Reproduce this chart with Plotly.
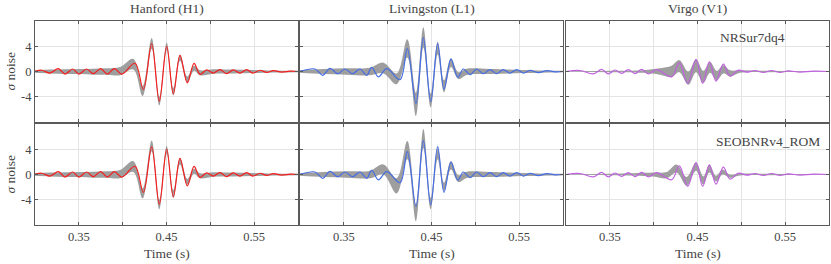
import plotly.graph_objects as go
from plotly.subplots import make_subplots

# ---------------- data ----------------
DETECTORS = ["Hanford (H1)", "Livingston (L1)", "Virgo (V1)"]
MODELS = ["NRSur7dq4", "SEOBNRv4_ROM"]
X_TICKS = [0.35, 0.40, 0.45, 0.50, 0.55]
X_TICKTEXT = ["0.35", "", "0.45", "", "0.55"]
Y_TICKS = [-4, 0, 4]
Y_TICKTEXT = ["-4", "0", "4"]

# whitened data (lines)
H1_T = [0.3000, 0.3076, 0.3171, 0.3266, 0.3342, 0.3430, 0.3502, 0.3589, 0.3665, 0.3749, 0.3825, 0.3905, 0.3989,
        0.4141, 0.4236, 0.4331, 0.4418, 0.4502, 0.4578, 0.4654, 0.4738, 0.4814, 0.4882, 0.4958, 0.5034, 0.5110,
        0.5186, 0.5262, 0.5338, 0.5415, 0.5483, 0.5567, 0.5643, 0.5719, 0.5814, 0.5909, 0.6000]
H1_DATA = [0, 0.2, -0.25, 0.45, -0.4, 0.4, -0.4, 0.4, -0.35, 0.45, -0.4, 0.45, -0.4,
           1.3, -2.85, 4.4, -4.7, 4.0, -3.55, 2.55, -1.8, 1.3, -0.45, 0.25, -0.25, 0.3,
           -0.35, 0.25, -0.25, 0.3, -0.25, 0.2, -0.15, 0.15, -0.1, 0.05, 0]

L1_T = [0.3000, 0.3171, 0.3259, 0.3342, 0.3430, 0.3513, 0.3601, 0.3684, 0.3761, 0.3818, 0.3894, 0.3989,
        0.4141, 0.4224, 0.4323, 0.4407, 0.4491, 0.4570, 0.4643, 0.4722, 0.4799, 0.4863, 0.4939, 0.5015,
        0.5091, 0.5167, 0.5243, 0.5319, 0.5395, 0.5472, 0.5548, 0.5624, 0.5719, 0.5814, 0.5909, 0.6000]
L1_DATA = [0, 0.4, -0.6, 0.5, -0.35, 0.4, -0.35, 0.4, -0.6, 0.65, -0.85, 0.45,
           -1.3, 3.63, -5.05, 5.37, -4.79, 4.42, -2.84, 1.95, -0.9, 0.4, -0.5, 0.4,
           -0.35, 0.3, -0.35, 0.3, -0.25, 0.3, -0.25, 0.18, -0.18, 0.15, -0.05, 0]

V1_T = [0.3000, 0.3160, 0.3312, 0.3407, 0.3483, 0.3559, 0.3635, 0.3711, 0.3787, 0.3863, 0.3939, 0.4034,
        0.4205, 0.4293, 0.4388, 0.4483, 0.4559, 0.4635, 0.4711, 0.4795, 0.4871, 0.4966, 0.5061, 0.5156,
        0.5251, 0.5346, 0.5441, 0.5536, 0.5669, 0.5821, 0.6000]
V1_DATA = [0, 0.16, -0.38, 0.33, -0.38, 0.24, -0.3, 0.3, -0.33, 0.33, -0.38, 0.3,
           -0.84, 1.37, -1.89, 1.89, -1.89, 1.53, -1.53, 1.16, -0.74, 0.21, -0.1, 0.16,
           -0.16, 0.16, -0.16, 0.1, -0.1, 0.05, 0]

# reconstruction bands (90% region)
H1_BAND_T = [0.3000, 0.3171, 0.3342, 0.3513, 0.3665, 0.3825, 0.3970, 0.4122, 0.4228, 0.4331, 0.4418,
             0.4502, 0.4578, 0.4654, 0.4738, 0.4814, 0.4882, 0.5034, 0.5262, 0.5491, 0.5719, 0.6000]
NRSUR_H1_HI = [0.2, 0.3, 0.35, 0.4, 0.45, 0.5, 0.7, 2.0, -2.3, 5.3, -4.0, 4.6, -2.6, 2.7, -0.8, 0.9, 0.2, 0.35, 0.3, 0.25, 0.15, 0.1]
NRSUR_H1_LO = [-0.2, -0.3, -0.4, -0.4, -0.5, -0.5, -0.6, 0.3, -3.9, 3.6, -5.4, 3.4, -3.8, 1.7, -1.7, 0.1, -0.6, -0.35, -0.3, -0.25, -0.15, -0.1]
SEOB_H1_HI = [0.2, 0.3, 0.35, 0.4, 0.45, 0.5, 0.7, 2.1, -2.2, 5.4, -4.0, 4.5, -2.5, 2.6, -0.7, 0.9, 0.2, 0.35, 0.3, 0.25, 0.15, 0.1]
SEOB_H1_LO = [-0.2, -0.3, -0.4, -0.4, -0.5, -0.5, -0.6, 0.4, -3.8, 3.7, -5.5, 3.3, -3.7, 1.6, -1.6, 0.1, -0.6, -0.35, -0.3, -0.25, -0.15, -0.1]

L1_BAND_T = [0.3000, 0.3266, 0.3532, 0.3798, 0.3951, 0.4103, 0.4224, 0.4323, 0.4407, 0.4491, 0.4570,
             0.4643, 0.4722, 0.4806, 0.4901, 0.5167, 0.5548, 0.6000]
NRSUR_L1_HI = [0.2, 0.4, 0.5, 0.6, 1.4, -0.3, 5.1, -3.4, 7.0, -3.5, 4.7, -1.4, 2.1, -0.1, 0.45, 0.4, 0.25, 0.1]
NRSUR_L1_LO = [-0.2, -0.4, -0.5, -0.6, -0.3, -2.0, 2.2, -7.1, 3.8, -5.7, 2.7, -3.3, 0.7, -1.2, -0.55, -0.4, -0.25, -0.1]
SEOB_L1_HI = [0.2, 0.4, 0.5, 0.6, 1.6, -0.6, 5.3, -4.7, 7.2, -3.7, 4.2, -1.3, 2.1, -0.1, 0.45, 0.4, 0.25, 0.1]
SEOB_L1_LO = [-0.2, -0.4, -0.5, -0.6, 0.0, -3.0, 2.4, -7.4, 4.2, -5.5, 2.4, -2.6, 0.8, -1.2, -0.55, -0.4, -0.25, -0.1]

NRSUR_V1_T = [0.3000, 0.3502, 0.3882, 0.4072, 0.4205, 0.4293, 0.4395, 0.4483, 0.4567, 0.4643, 0.4719,
              0.4795, 0.4871, 0.4985, 0.5300, 0.6000]
NRSUR_V1_HI = [0.05, 0.1, 0.2, 0.5, 0.9, 1.8, 0.0, 2.0, 0.1, 1.5, 0.1, 1.0, 0.2, 0.2, 0.1, 0.05]
NRSUR_V1_LO = [-0.05, -0.1, -0.2, -0.5, -0.9, -0.1, -2.1, -0.1, -1.8, -0.2, -1.4, -0.3, -0.8, -0.2, -0.1, -0.05]
SEOB_V1_T = [0.3000, 0.3502, 0.3996, 0.4148, 0.4262, 0.4376, 0.4483, 0.4567, 0.4635, 0.4711, 0.4787,
             0.4871, 0.4985, 0.5300, 0.6000]
SEOB_V1_HI = [0.05, 0.1, 0.3, 0.4, 1.6, -0.4, 1.9, -0.3, 1.6, -0.2, 0.8, 0.0, 0.15, 0.1, 0.05]
SEOB_V1_LO = [-0.05, -0.1, -0.3, -0.6, 0.3, -1.8, 0.6, -1.6, 0.3, -1.1, 0.0, -0.5, -0.15, -0.1, -0.05]

# ---------------- styling ----------------
LINE_COLORS = ["rgb(245,30,30)", "rgb(70,110,228)", "rgb(192,98,224)"]
BAND_COLOR = "rgb(158,158,158)"
TEXT_COLOR = "#444444"
FONT = "Liberation Serif, serif"

lines = [(H1_T, H1_DATA), (L1_T, L1_DATA), (V1_T, V1_DATA)]
bands = {
    (0, 0): (H1_BAND_T, NRSUR_H1_LO, NRSUR_H1_HI),
    (0, 1): (L1_BAND_T, NRSUR_L1_LO, NRSUR_L1_HI),
    (0, 2): (NRSUR_V1_T, NRSUR_V1_LO, NRSUR_V1_HI),
    (1, 0): (H1_BAND_T, SEOB_H1_LO, SEOB_H1_HI),
    (1, 1): (L1_BAND_T, SEOB_L1_LO, SEOB_L1_HI),
    (1, 2): (SEOB_V1_T, SEOB_V1_LO, SEOB_V1_HI),
}

W, H = 831, 264
ML, MR, MT, MB = 35, 2, 21, 39
PW, PH = W - ML - MR, H - MT - MB
col_px = [(35, 298), (300, 563), (566, 829)]
row_px = [(21, 122), (124, 225)]


def xdom(c):
    a, b = col_px[c]
    return [(a - ML) / PW, (b - ML) / PW]


def ydom(r):
    a, b = row_px[r]
    return [(H - MB - b) / PH, (H - MB - a) / PH]


fig = make_subplots(rows=2, cols=3)

for r in range(2):
    for c in range(3):
        bt, blo, bhi = bands[(r, c)]
        fig.add_trace(go.Scatter(x=bt, y=blo, mode="lines", line=dict(width=0, shape="spline", color=BAND_COLOR),
                                 hoverinfo="skip", showlegend=False), row=r + 1, col=c + 1)
        fig.add_trace(go.Scatter(x=bt, y=bhi, mode="lines", fill="tonexty", fillcolor=BAND_COLOR,
                                 line=dict(width=0, shape="spline", color=BAND_COLOR),
                                 hoverinfo="skip", showlegend=False), row=r + 1, col=c + 1)
        lt, ly = lines[c]
        fig.add_trace(go.Scatter(x=lt, y=ly, mode="lines",
                                 line=dict(width=1.2, shape="spline", color=LINE_COLORS[c]),
                                 hoverinfo="skip", showlegend=False), row=r + 1, col=c + 1)
        fig.update_xaxes(row=r + 1, col=c + 1, domain=xdom(c), range=[0.30, 0.60], automargin=False,
                         tickvals=X_TICKS, ticktext=X_TICKTEXT, showticklabels=(r == 1),
                         showgrid=True, gridcolor="#e4e4e4", gridwidth=1, zeroline=False,
                         showline=True, linecolor="#5a5a5a", linewidth=1, mirror="allticks",
                         ticks="inside", ticklen=3, tickcolor="#5a5a5a",
                         tickfont=dict(family=FONT, size=12.5, color=TEXT_COLOR))
        fig.update_yaxes(row=r + 1, col=c + 1, domain=ydom(r), range=[-8, 8], automargin=False,
                         tickvals=Y_TICKS, ticktext=Y_TICKTEXT, showticklabels=(c == 0),
                         showgrid=True, gridcolor="#e4e4e4", gridwidth=1, zeroline=False,
                         showline=True, linecolor="#5a5a5a", linewidth=1, mirror="allticks",
                         ticks="inside", ticklen=3, tickcolor="#5a5a5a",
                         tickfont=dict(family=FONT, size=12.5, color=TEXT_COLOR))

annotations = []
for c in range(3):
    a, b = col_px[c]
    xc = ((a + b) / 2 - ML) / PW
    annotations.append(dict(text=DETECTORS[c], x=xc, y=(H - MB - 8) / PH, xref="paper", yref="paper",
                            showarrow=False, xanchor="center", yanchor="middle",
                            font=dict(family=FONT, size=13.5, color=TEXT_COLOR)))
    annotations.append(dict(text="Time (s)", x=xc, y=(H - MB - 253) / PH, xref="paper", yref="paper",
                            showarrow=False, xanchor="center", yanchor="middle",
                            font=dict(family=FONT, size=13.5, color=TEXT_COLOR)))
for r in range(2):
    a, b = row_px[r]
    annotations.append(dict(text="<i>σ</i> noise", x=(10 - ML) / PW, y=(H - MB - (a + b) / 2) / PH,
                            xref="paper", yref="paper", showarrow=False, textangle=-90,
                            xanchor="center", yanchor="middle",
                            font=dict(family=FONT, size=13.5, color=TEXT_COLOR)))
annotations.append(dict(text=MODELS[0], x=(787 - ML) / PW, y=(H - MB - 37) / PH, xref="paper", yref="paper",
                        showarrow=False, xanchor="right", yanchor="middle",
                        font=dict(family=FONT, size=13.5, color=TEXT_COLOR)))
annotations.append(dict(text=MODELS[1], x=(822 - ML) / PW, y=(H - MB - 141) / PH, xref="paper", yref="paper",
                        showarrow=False, xanchor="right", yanchor="middle",
                        font=dict(family=FONT, size=13.5, color=TEXT_COLOR)))

fig.update_layout(template="none", width=W, height=H, margin=dict(l=ML, r=MR, t=MT, b=MB),
                  paper_bgcolor="white", plot_bgcolor="white", annotations=annotations,
                  showlegend=False, font=dict(family=FONT, color=TEXT_COLOR))

fig.write_html("out.html", config={"displayModeBar": False},
               post_script="document.body.style.margin='0px';document.body.style.padding='0px';"
                           "document.documentElement.style.margin='0px';")
